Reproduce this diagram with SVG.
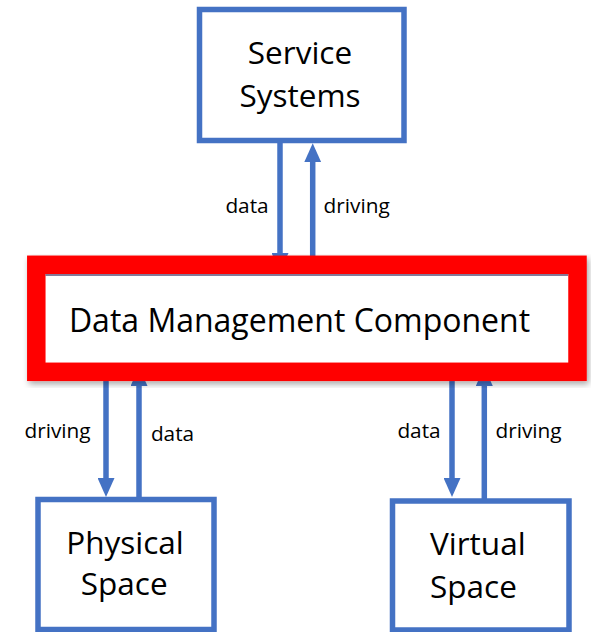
<svg xmlns="http://www.w3.org/2000/svg" width="591" height="632" viewBox="0 0 591 632">
  <defs>
    <marker id="head" markerUnits="userSpaceOnUse" markerWidth="19" markerHeight="17" refX="9" refY="8.5" orient="auto">
      <path d="M0,0 L19,8.5 L0,17 Z" fill="#4472C4"/>
    </marker>
    <filter id="shadow" x="-5%" y="-10%" width="110%" height="125%">
      <feDropShadow dx="2" dy="3" stdDeviation="3" flood-color="#000" flood-opacity="0.35"/>
    </filter>
    <style>
      .box { fill: #fff; stroke: #4472C4; stroke-width: 5.5; }
      .core { fill: #fff; stroke: #FF0000; stroke-width: 18.5; }
      .link { stroke: #4472C4; stroke-width: 5.5; fill: none; marker-end: url(#head); }
      .big { font-family: "Open Sans", "Liberation Sans", sans-serif; font-size: 31.5px; fill: #000; text-anchor: middle; }
      .mid { font-family: "Open Sans", "Liberation Sans", sans-serif; font-size: 32px; fill: #000; text-anchor: middle; }
      .lbl { font-family: "Open Sans", "Liberation Sans", sans-serif; font-size: 20.8px; fill: #000; text-anchor: middle; }
    </style>
  </defs>

  <rect width="591" height="632" fill="#fff"/>

  <!-- connectors: each pair runs between a node and the central component -->
  <g id="connectors">
    <line class="link" x1="280" y1="141" x2="280" y2="262"/>
    <line class="link" x1="312.7" y1="265" x2="312.7" y2="153.3"/>
    <line class="link" x1="106" y1="372" x2="106" y2="487"/>
    <line class="link" x1="139" y1="499" x2="139" y2="377"/>
    <line class="link" x1="452" y1="372" x2="452" y2="487"/>
    <line class="link" x1="484.3" y1="501" x2="484.3" y2="377"/>
    <text class="lbl" x="247" y="213">data</text>
    <text class="lbl" x="356.7" y="213">driving</text>
    <text class="lbl" x="57.5" y="438.3">driving</text>
    <text class="lbl" x="172.5" y="440.7">data</text>
    <text class="lbl" x="419" y="437.7">data</text>
    <text class="lbl" x="528.5" y="438.3">driving</text>
  </g>

  <g id="service-systems">
    <rect class="box" x="199.5" y="9.5" width="204.5" height="131"/>
    <text class="big" x="300" y="64">Service</text>
    <text class="big" x="300" y="106.7">Systems</text>
  </g>

  <g id="data-management-component">
    <rect class="core" x="36.3" y="264.8" width="541.2" height="107" filter="url(#shadow)"/>
    <line x1="45.5" y1="275" x2="568" y2="275" stroke="#5B4F78" stroke-width="1.5"/>
    <text class="mid" x="299.5" y="332">Data Management Component</text>
  </g>

  <g id="physical-space">
    <rect class="box" x="38" y="499.5" width="176" height="130"/>
    <text class="big" x="125" y="554">Physical</text>
    <text class="big" x="124.2" y="595">Space</text>
  </g>

  <g id="virtual-space">
    <rect class="box" x="392.5" y="501" width="176.5" height="129"/>
    <text class="big" x="430" y="555" style="text-anchor:start">Virtual</text>
    <text class="big" x="430" y="598" style="text-anchor:start">Space</text>
  </g>
</svg>
